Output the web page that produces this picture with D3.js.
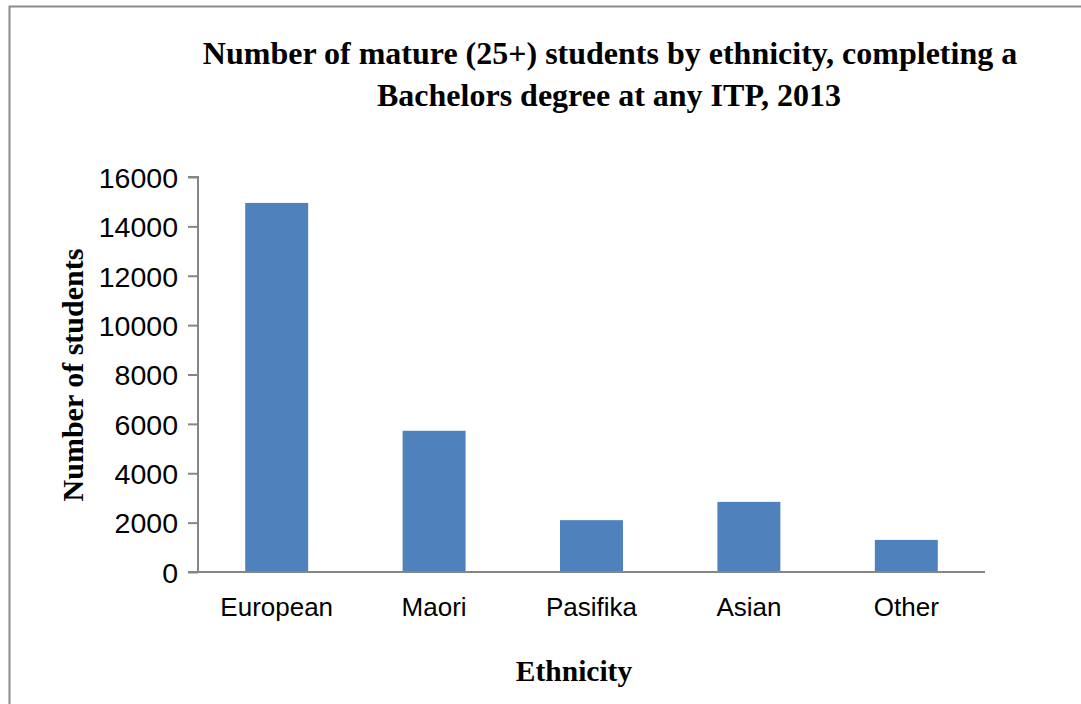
<!DOCTYPE html>
<html><head><meta charset="utf-8">
<script src="https://cdn.jsdelivr.net/npm/d3@7"></script>
<style>body{margin:0;background:#fff;} svg{display:block;}</style>
</head><body>
<svg id="chart" width="1081" height="704"></svg>
<script>
const categories = ["European", "Maori", "Pasifika", "Asian", "Other"];
const values = [14950, 5720, 2100, 2840, 1300];
const yTicks = [0, 2000, 4000, 6000, 8000, 10000, 12000, 14000, 16000];
const titleLines = ["Number of mature (25+) students by ethnicity, completing a", "Bachelors degree at any ITP, 2013"];
const xTitle = "Ethnicity";
const yTitle = "Number of students";

const svg = d3.select("#chart");
const W = 1081, H = 704;
svg.append("rect").attr("width", W).attr("height", H).attr("fill", "#fff");

// outer frame (top and left visible)
svg.append("path").attr("d", `M9.5,${H} V6.5 H${W}`).attr("fill", "none").attr("stroke", "#8c8c8c").attr("stroke-width", 2);

const m = {left: 198, right: 985, top: 177, bottom: 572};
const x = d3.scaleBand().domain(categories).range([m.left, m.right]).paddingInner(0.6).paddingOuter(0.3);
const y = d3.scaleLinear().domain([0, 16000]).range([m.bottom, m.top]);

// bars
svg.append("g").selectAll("rect").data(values).join("rect")
  .attr("x", (d, i) => x(categories[i]))
  .attr("width", x.bandwidth())
  .attr("y", d => y(d))
  .attr("height", d => y(0) - y(d))
  .attr("fill", "#4F81BD");

// y axis
const yAxis = d3.axisLeft(y).tickValues(yTicks).tickSize(10).tickPadding(10).tickFormat(d3.format("d"));
const gy = svg.append("g").attr("transform", `translate(${m.left},0)`).call(yAxis);
gy.select(".domain").attr("stroke", "#868686").attr("stroke-width", 2).attr("d", `M-10,${m.top}H0V${m.bottom}`);
gy.selectAll(".tick line").attr("stroke", "#868686").attr("stroke-width", 2);
gy.selectAll(".tick text").attr("font-family", "Liberation Sans, Arial, sans-serif").attr("font-size", 28.5).attr("fill", "#000").attr("dy", "0.36em");

// x axis
const xAxis = d3.axisBottom(x).tickSize(0).tickPadding(30);
const gx = svg.append("g").attr("transform", `translate(0,${m.bottom})`).call(xAxis);
gx.select(".domain").attr("stroke", "#868686").attr("stroke-width", 2).attr("d", `M${m.left - 10},0H${m.right}`);
gx.selectAll(".tick text").attr("font-family", "Liberation Sans, Arial, sans-serif").attr("font-size", 26).attr("fill", "#000").attr("dy", "0.55em");

// title
const title = svg.append("text").attr("text-anchor", "middle").attr("font-family", "Liberation Serif, Times New Roman, serif").attr("font-weight", "bold").attr("font-size", 32).attr("fill", "#000");
title.append("tspan").attr("x", 610).attr("y", 64).text(titleLines[0]);
title.append("tspan").attr("x", 609).attr("y", 106).text(titleLines[1]);

// axis titles
svg.append("text").attr("x", 574).attr("y", 681).attr("text-anchor", "middle")
  .attr("font-family", "Liberation Serif, Times New Roman, serif").attr("font-weight", "bold").attr("font-size", 29.5).text(xTitle);
svg.append("text").attr("transform", "translate(83,375) rotate(-90)").attr("text-anchor", "middle")
  .attr("font-family", "Liberation Serif, Times New Roman, serif").attr("font-weight", "bold").attr("font-size", 30).text(yTitle);
</script>
</body></html>
